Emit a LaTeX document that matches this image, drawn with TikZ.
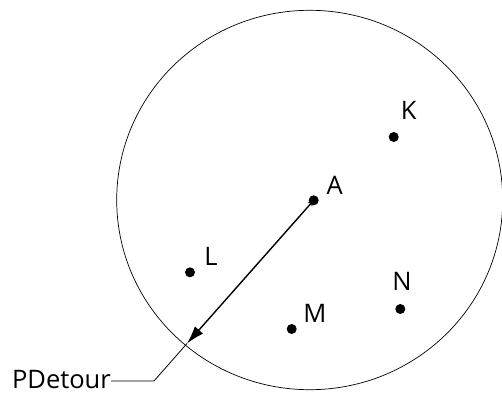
\documentclass[tikz,border=0pt]{standalone}
\usepackage{fontspec}
\setmainfont{Open Sans}
\usetikzlibrary{arrows.meta,shapes.geometric}
\begin{document}
\begin{tikzpicture}[x=1pt,y=1pt,
  pt/.style={circle,fill=black,inner sep=0pt,minimum size=10pt},
  lbl/.style={font=\fontsize{25.5}{28}\selectfont,inner sep=0pt},
  thin line/.style={draw=black,line width=0.8pt}]
\useasboundingbox (0,0) rectangle (502,394);
\node[ellipse,draw,line width=0.7pt,minimum width=386pt,minimum height=379.4pt,inner sep=0pt] (circ) at (309.7,194) {};
\node[pt] (K) at (393.7,257) {};
\node[pt] (A) at (313.7,193.7) {};
\node[pt] (L) at (190,121.7) {};
\node[pt] (M) at (291.7,65) {};
\node[pt] (N) at (400.3,85) {};
\node[lbl] (Kl) at (408.8,284) {K};
\node[lbl] (Al) at (334.7,208.2) {A};
\node[lbl] (Ll) at (211,137.3) {L};
\node[lbl] (Nl) at (402,113) {N};
\node[lbl] (Ml) at (315,80.7) {M};
\coordinate (tip) at (187,50.5);
\coordinate (bend) at (154,13);
\node[lbl,anchor=base east,text depth=0pt] (pd) at (111,5.5) {PDetour};
\draw[line width=1.4pt,{Stealth[length=6pt,width=6pt]}-{Latex[length=18pt,width=11pt]}] (A.center) -- (tip);
\draw[thin line] (pd.east |- bend) -- (bend) -- (tip);
\end{tikzpicture}
\end{document}
